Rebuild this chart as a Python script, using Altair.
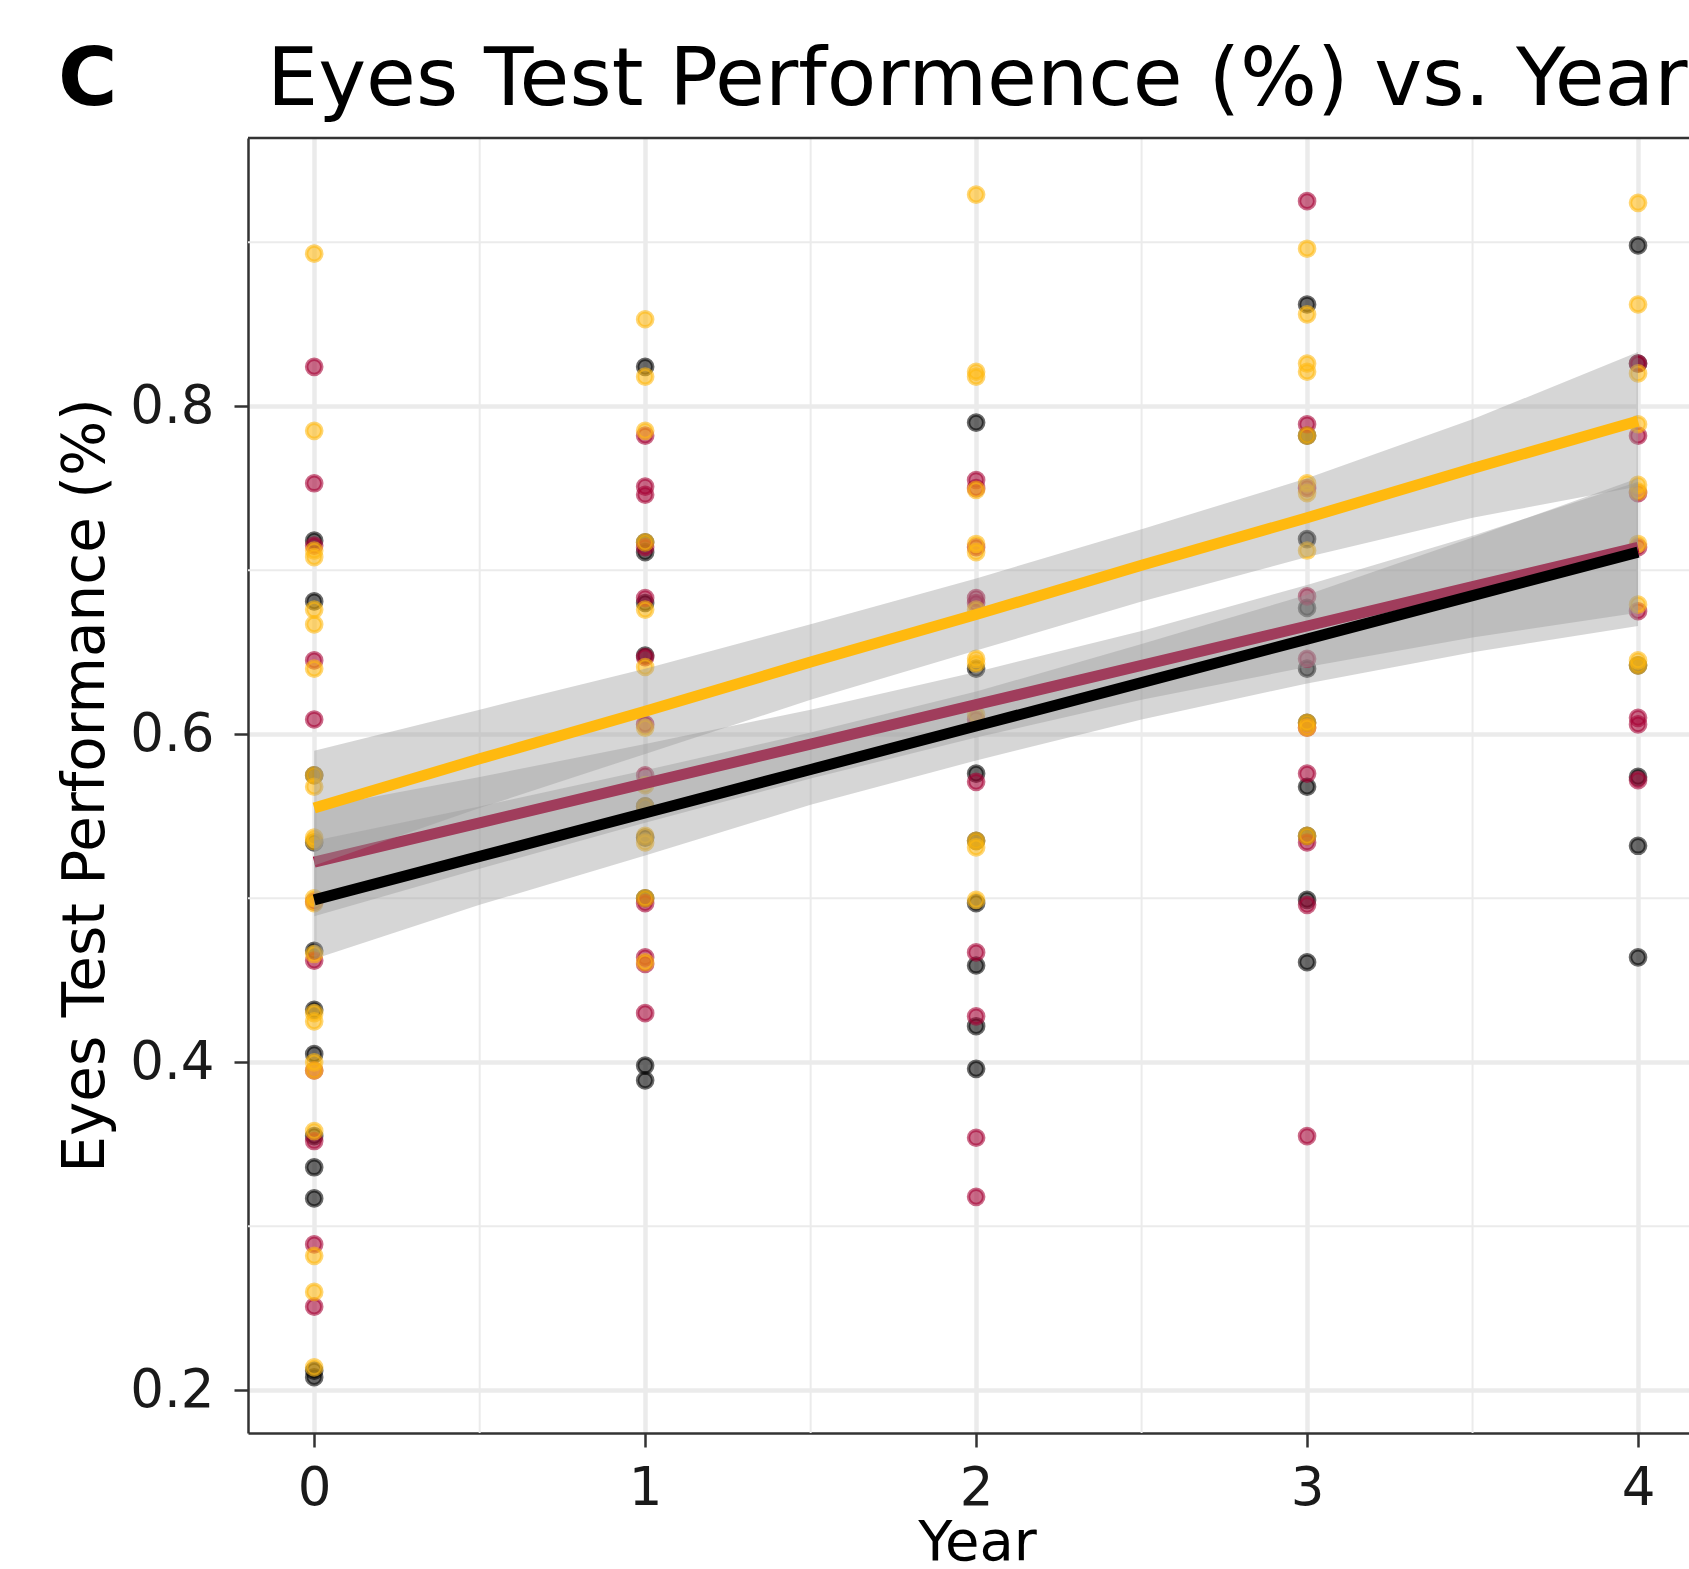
import altair as alt
import pandas as pd

# ---------------- data ----------------
years = [0, 1, 2, 3, 4]

gold_pts = [
    [0.893, 0.785, 0.712, 0.708, 0.676, 0.667, 0.640, 0.575, 0.568, 0.537, 0.535, 0.500, 0.497,
     0.466, 0.430, 0.425, 0.400, 0.395, 0.358, 0.282, 0.260, 0.214],
    [0.853, 0.818, 0.785, 0.717, 0.676, 0.641, 0.604, 0.569, 0.556, 0.538, 0.534, 0.500, 0.461],
    [0.929, 0.821, 0.818, 0.749, 0.716, 0.711, 0.676, 0.646, 0.643, 0.612, 0.535, 0.531, 0.499],
    [0.896, 0.856, 0.826, 0.821, 0.782, 0.753, 0.747, 0.712, 0.607, 0.604, 0.538],
    [0.924, 0.862, 0.820, 0.789, 0.752, 0.748, 0.716, 0.679, 0.645, 0.642],
]
maroon_pts = [
    [0.824, 0.753, 0.715, 0.645, 0.609, 0.498, 0.462, 0.395, 0.352, 0.289, 0.251],
    [0.782, 0.751, 0.746, 0.714, 0.683, 0.647, 0.606, 0.575, 0.497, 0.464, 0.460, 0.430],
    [0.755, 0.750, 0.714, 0.683, 0.680, 0.609, 0.571, 0.467, 0.428, 0.354, 0.318],
    [0.925, 0.789, 0.750, 0.684, 0.646, 0.604, 0.576, 0.534, 0.496, 0.355],
    [0.826, 0.782, 0.747, 0.714, 0.675, 0.610, 0.606, 0.572],
]
black_pts = [
    [0.718, 0.681, 0.575, 0.534, 0.468, 0.432, 0.405, 0.355, 0.336, 0.317, 0.212, 0.208],
    [0.824, 0.717, 0.711, 0.680, 0.648, 0.556, 0.537, 0.500, 0.398, 0.389],
    [0.790, 0.640, 0.576, 0.535, 0.497, 0.459, 0.422, 0.396],
    [0.862, 0.782, 0.719, 0.677, 0.640, 0.607, 0.568, 0.538, 0.499, 0.461],
    [0.898, 0.826, 0.642, 0.574, 0.532, 0.464],
]

# fitted lines and confidence ribbons (read at these years)
band_x = [0, 0.5, 1, 1.5, 2, 2.5, 3, 3.5, 4]
gold_fit = [0.555, 0.585, 0.614, 0.644, 0.673, 0.703, 0.732, 0.762, 0.791]
gold_lo = [0.520, 0.555, 0.588, 0.621, 0.651, 0.681, 0.708, 0.732, 0.751]
gold_hi = [0.590, 0.615, 0.640, 0.667, 0.695, 0.725, 0.756, 0.792, 0.833]
maroon_fit = [0.522, 0.546, 0.570, 0.594, 0.618, 0.642, 0.666, 0.690, 0.714]
maroon_lo = [0.489, 0.518, 0.546, 0.573, 0.598, 0.621, 0.641, 0.659, 0.674]
maroon_hi = [0.555, 0.574, 0.594, 0.615, 0.638, 0.663, 0.691, 0.721, 0.754]
black_fit = [0.499, 0.5255, 0.552, 0.5785, 0.605, 0.6315, 0.658, 0.6845, 0.711]
black_lo = [0.463, 0.496, 0.526, 0.557, 0.584, 0.609, 0.631, 0.650, 0.666]
black_hi = [0.535, 0.556, 0.578, 0.601, 0.626, 0.655, 0.685, 0.720, 0.756]

x_major = [0, 1, 2, 3, 4]
x_minor = [0.5, 1.5, 2.5, 3.5]
y_major = [0.2, 0.4, 0.6, 0.8]
y_minor = [0.3, 0.5, 0.7, 0.9]

group_names = ["gold", "maroon", "black"]
group_colors = ["#FFB90F", "#A50034", "#000000"]

title_text = "Eyes Test Performence (%) vs. Year"
panel_label = "C"

# ---------------- tables ----------------
rows = []
for name, pts in [("black", black_pts), ("maroon", maroon_pts), ("gold", gold_pts)]:
    for yr, vals in zip(years, pts):
        for v in vals:
            rows.append({"Year": yr, "Score": v, "Group": name})
points_df = pd.DataFrame(rows)

band_rows = []
for name, fit, lo, hi in [("gold", gold_fit, gold_lo, gold_hi),
                          ("maroon", maroon_fit, maroon_lo, maroon_hi),
                          ("black", black_fit, black_lo, black_hi)]:
    for xv, f, l, h in zip(band_x, fit, lo, hi):
        band_rows.append({"Year": xv, "fit": f, "lo": l, "hi": h, "Group": name})
band_df = pd.DataFrame(band_rows)

W, H = 1441, 1295
FONT = "DejaVu Sans"

xscale = alt.Scale(domain=[-0.2, 4.154], nice=False, zero=False)
yscale = alt.Scale(domain=[0.174, 0.9635], nice=False, zero=False)
cscale = alt.Scale(domain=group_names, range=group_colors)

x_axis = alt.Axis(values=x_major, title="Year", grid=True, gridColor="#EBEBEB", gridWidth=4.5,
                  labelFont=FONT, labelFontSize=53, labelColor="#1a1a1a", labelPadding=15,
                  tickSize=14, tickWidth=2.5, tickColor="#333333",
                  domainColor="#333333", domainWidth=2.5,
                  titleFont=FONT, titleFontSize=56, titleFontWeight="normal", titleColor="black",
                  titleX=729, titleY=126, titleBaseline="alphabetic", titleAlign="center")
y_axis = alt.Axis(values=y_major, format=".1f", title="Eyes Test Performance (%)", grid=True,
                  gridColor="#EBEBEB", gridWidth=4.5,
                  labelFont=FONT, labelFontSize=53, labelColor="#1a1a1a", labelPadding=20,
                  tickSize=14, tickWidth=2.5, tickColor="#333333",
                  domainColor="#333333", domainWidth=2.5,
                  titleFont=FONT, titleFontSize=58, titleFontWeight="normal", titleColor="black",
                  titleX=-162, titleY=647, titleAngle=270, titleAlign="center", titleBaseline="middle")


def X(field):
    return alt.X(field, scale=xscale, axis=x_axis)


def Y(field):
    return alt.Y(field, scale=yscale, axis=y_axis)


minor_x = alt.Chart(pd.DataFrame({"Year": x_minor})).mark_rule(color="#EBEBEB", strokeWidth=2).encode(
    x=X("Year:Q"))
minor_y = alt.Chart(pd.DataFrame({"Score": y_minor})).mark_rule(color="#EBEBEB", strokeWidth=2).encode(
    y=Y("Score:Q"))

points = alt.Chart(points_df).mark_circle(size=230, fillOpacity=0.58, strokeOpacity=0.58,
                                          strokeWidth=3.5).encode(
    x=X("Year:Q"),
    y=Y("Score:Q"),
    fill=alt.Color("Group:N", scale=cscale, legend=None),
    stroke=alt.Color("Group:N", scale=cscale, legend=None),
)


def smooth(name):
    base = alt.Chart(band_df).transform_filter(alt.datum.Group == name)
    ribbon = base.mark_area(color="#999999", opacity=0.4).encode(
        x=X("Year:Q"),
        y=Y("lo:Q"),
        y2="hi:Q")
    line = base.mark_line(strokeWidth=11).encode(
        x=X("Year:Q"),
        y=Y("fit:Q"),
        color=alt.Color("Group:N", scale=cscale, legend=None))
    return [ribbon, line]


top_border = alt.Chart(pd.DataFrame({"a": [0]})).mark_rule(color="#333333", strokeWidth=2.5).encode(
    x=alt.value(0), x2=alt.value(W), y=alt.value(0))

title = alt.Chart(pd.DataFrame({"t": [title_text]})).mark_text(
    align="left", baseline="alphabetic", font=FONT, fontSize=81, color="black").encode(
    text="t:N", x=alt.value(19), y=alt.value(-33))
label = alt.Chart(pd.DataFrame({"t": [panel_label]})).mark_text(
    align="left", baseline="alphabetic", font=FONT, fontSize=81, fontWeight="bold", color="black").encode(
    text="t:N", x=alt.value(-190), y=alt.value(-33))

layers = [minor_x, minor_y, points] + smooth("maroon") + smooth("gold") + smooth("black") + \
         [top_border, title, label]

chart = alt.layer(*layers).properties(
    width=W, height=H,
    autosize=alt.AutoSizeParams(type="none"),
    padding={"left": 248, "top": 138, "right": 0, "bottom": 136},
    background="white",
).configure_view(strokeWidth=0)

chart.save("out.html", embed_options={"renderer": "svg", "actions": False})
